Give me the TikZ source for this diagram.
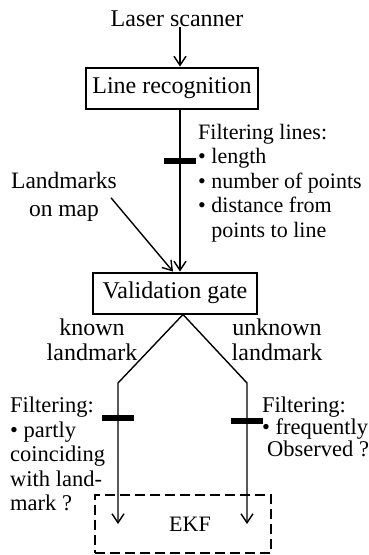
\documentclass[tikz,border=0pt]{standalone}
\usepackage{fontspec}
\setmainfont{Liberation Serif}
\usetikzlibrary{arrows.meta,positioning,calc}
\tikzset{
  procbox/.style={draw, line width=2pt, inner sep=0pt, minimum height=41pt,
    font=\fontsize{24}{26}\selectfont},
  lbl/.style={inner sep=0pt, font=\fontsize{23.5}{26}\selectfont},
  notes/.style={lbl, align=left, anchor=north west},
  filterbar/.style={fill=black, inner sep=0pt, minimum width=32pt, minimum height=6pt},
  arr/.style={-{Straight Barb[length=9pt,width=12pt]}, line width=1.4pt},
  ekfbox/.style={draw, dash pattern=on 10pt off 5pt, line width=2pt, inner sep=0pt,
    minimum width=176pt, minimum height=58pt, font=\fontsize{22}{24}\selectfont}
}

\begin{document}
\begin{tikzpicture}[x=1pt, y=-1pt]
  \useasboundingbox (0,0) rectangle (369,555);

  \node[lbl, anchor=north, font=\fontsize{24}{26}\selectfont] (scanner) at (177,11) {Laser scanner};
  \node[procbox, minimum width=172pt] (linerec) at (172,88) {Line recognition};
  \node[filterbar] (bar1) at (180,161) {};
  \node[notes, font=\fontsize{22}{24.5}\selectfont] (filtlines) at (198,124)
    {Filtering lines:\\
     \textbullet\ length\\
     \textbullet\ number of points\\
     \textbullet\ distance from\\
     \hphantom{\textbullet\ }points to line};
  \node[lbl, align=center, anchor=north, font=\fontsize{23.5}{28}\selectfont] (landmarks) at (64,172)
    {Landmarks\\on map};
  \node[procbox, minimum width=164pt] (valgate) at (175,293) {Validation gate};

  \node[lbl, align=center, anchor=north, font=\fontsize{24}{25}\selectfont] (known) at (92,319)
    {known\\landmark};
  \node[lbl, align=center, anchor=north, font=\fontsize{24}{25}\selectfont] (unknown) at (277,319)
    {unknown\\landmark};

  \coordinate (vgout) at ([xshift=8pt]valgate.south);
  \coordinate (kbend) at (118,383);
  \coordinate (ubend) at (247,383);
  \node[filterbar] (bar2) at (118,418) {};
  \node[filterbar] (bar3) at (247,421) {};

  \node[notes, font=\fontsize{22.5}{24.5}\selectfont] (filtleft) at (10,397)
    {Filtering:\\
     \textbullet\ partly\\
     coinciding\\
     with land-\\
     mark ?};
  \node[notes, font=\fontsize{22.5}{22}\selectfont] (filtright) at (262,397)
    {Filtering:\\
     \textbullet\ frequently\\
     \hspace*{5pt}Observed ?};

  \node[ekfbox] (ekf) at (183,524) {\hspace*{14pt}EKF};

  \draw[arr] (scanner.south -| bar1) -- (linerec.north -| bar1);
  \draw[arr] (linerec.south -| bar1) -- (valgate.north -| bar1);
  \draw[arr] ([xshift=-6pt,yshift=-1pt]landmarks.east) -- ([xshift=-2pt]valgate.north);
  \draw[arr] (vgout) -- (kbend) -- (kbend |- ekf.center);
  \draw[arr] (vgout) -- (ubend) -- (ubend |- ekf.center);
\end{tikzpicture}
\end{document}
